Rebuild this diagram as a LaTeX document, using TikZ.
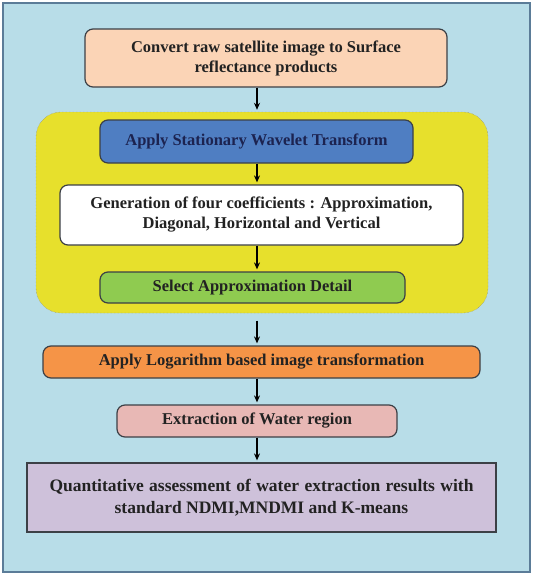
\documentclass[tikz,border=0pt]{standalone}
\usepackage{fontspec}
\setmainfont{Liberation Serif}
\usetikzlibrary{arrows.meta}

\definecolor{frameblue}{HTML}{5B7C98}
\definecolor{skyback}{HTML}{B8DDE8}
\definecolor{boxline}{HTML}{3C4046}
\definecolor{textgray}{HTML}{222222}
\definecolor{peach}{HTML}{FBD4B6}
\definecolor{swtyellow}{HTML}{E7E02C}
\definecolor{swtblue}{HTML}{4F7EC2}
\definecolor{navytext}{HTML}{1C2350}
\definecolor{selgreen}{HTML}{8FCB50}
\definecolor{logorange}{HTML}{F59447}
\definecolor{extpink}{HTML}{E8B8B5}
\definecolor{qalilac}{HTML}{CEC1DA}

\tikzset{%
  every box/.style={
    rectangle,
    rounded corners=8pt,
    draw=boxline,
    line width=1.2pt,
    inner sep=0pt,
    align=center,
    text=textgray,
    font=\bfseries\fontsize{16.5}{20}\selectfont
  },
  box conv/.style={fill=peach, minimum width=362pt, minimum height=58pt},
  box swt/.style={fill=swtblue, text=navytext, minimum width=313pt, minimum height=43pt},
  box gen/.style={fill=white, minimum width=403pt, minimum height=60pt},
  box sel/.style={fill=selgreen, minimum width=305pt, minimum height=31pt},
  box log/.style={fill=logorange, minimum width=437pt, minimum height=32pt},
  box ext/.style={fill=extpink, minimum width=280pt, minimum height=32pt},
  box qa/.style={fill=qalilac, rounded corners=0pt, minimum width=469pt, minimum height=69pt,
    font=\bfseries\fontsize{17.5}{22}\selectfont},
  flow/.style={-{Stealth[length=7pt,width=6pt]}, line width=1.5pt, black, shorten >=2pt},
}

\begin{document}
\begin{tikzpicture}[x=1pt,y=-1pt]
\useasboundingbox (0,0) rectangle (533,576);
\draw [frameblue, line width=2pt, fill=skyback] (3,3) rectangle (530,572);

% wavelet block
\node [draw=gray, densely dotted, fill=swtyellow, rounded corners=25pt,
  minimum width=452pt, minimum height=201pt, inner sep=0pt] (swtblock) at (262,212.5) {};

\coordinate (axis) at (257,0);

\node [every box, box conv] (conv) at (266,58)
  {Convert raw satellite image to Surface\\reflectance products};
\node [every box, box swt] (swt) at (256.5,141.5) {Apply Stationary Wavelet Transform};
\node [every box, box gen] (gen) at (261.5,215)
  {Generation of four coefficients : Approximation,\\Diagonal, Horizontal and Vertical};
\node [every box, box sel] (sel) at (252.5,287.5) {Select Approximation Detail};
\node [every box, box log] (log) at (261.5,362) {Apply Logarithm based image transformation};
\node [every box, box ext] (ext) at (257,421) {Extraction of Water region};
\node [every box, box qa] (qa) at (261.5,497.5)
  {\makebox[424pt][s]{Quantitative assessment of water extraction results with}\\standard NDMI,MNDMI and K-means};

\foreach \a/\b in {conv/swtblock, swt/gen, gen/sel, log/ext, ext/qa}
  \draw [flow] (\a.south -| axis) -- (\b.north -| axis);

\draw [flow, shorten <=17pt] (sel.south -| axis) -- (log.north -| axis);

\end{tikzpicture}
\end{document}
